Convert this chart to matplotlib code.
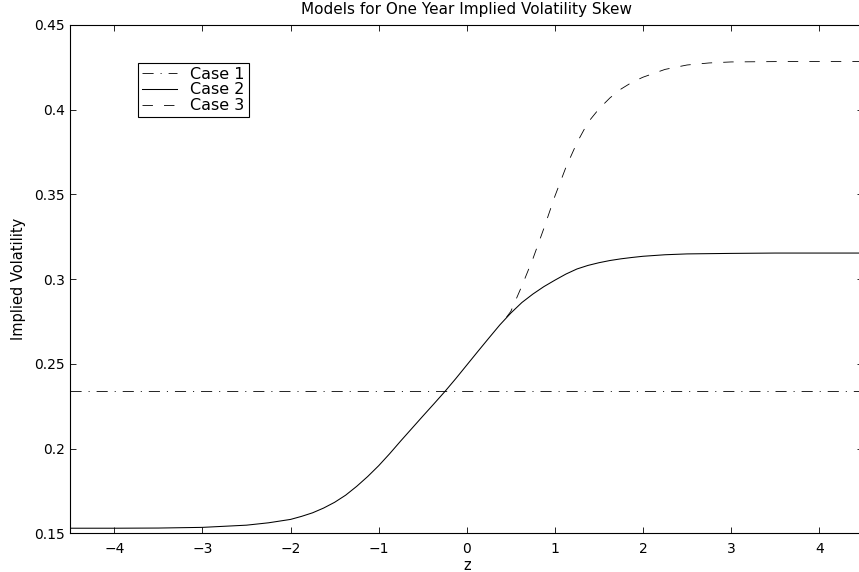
import numpy as np
import matplotlib
matplotlib.use('Agg')
import matplotlib.pyplot as plt
from matplotlib.ticker import FormatStrFormatter

plt.rcParams['font.family'] = ['DejaVu Sans']
plt.rcParams['lines.scale_dashes'] = False

# Values
z_case1 = [-4.5, 4.5]
vol_case1 = [0.234, 0.234]

z_case2 = [-4.5, -4, -3.5, -3, -2.5, -2.25, -2.0, -1.875, -1.75, -1.625, -1.5,
           -1.375, -1.25, -1.125, -1.0, -0.875, -0.75, -0.625, -0.5, -0.375,
           -0.25, -0.125, 0.0, 0.125, 0.25, 0.375, 0.5, 0.625, 0.75, 0.875,
           1.0, 1.125, 1.25, 1.375, 1.5, 1.625, 1.75, 1.875, 2.0, 2.25, 2.5,
           3, 3.5, 4, 4.5]
vol_case2 = [0.1530, 0.1530, 0.1531, 0.1535, 0.1548, 0.1562, 0.1582, 0.1600,
             0.1621, 0.1649, 0.1683, 0.1725, 0.1777, 0.1835, 0.1899, 0.1970,
             0.2045, 0.2118, 0.2191, 0.2263, 0.2336, 0.2413, 0.2493, 0.2573,
             0.2652, 0.2730, 0.2800, 0.2862, 0.2912, 0.2956, 0.2994, 0.3030,
             0.3060, 0.3081, 0.3097, 0.3110, 0.3120, 0.3128, 0.3135, 0.3144,
             0.3149, 0.3152, 0.3154, 0.3154, 0.3154]

z_case3 = [0.45, 0.5, 0.625, 0.75, 0.875, 1.0, 1.125, 1.25, 1.375, 1.5, 1.625,
           1.75, 1.875, 2.0, 2.25, 2.5, 2.75, 3.0, 3.5, 4.0, 4.5]
vol_case3 = [0.2775, 0.2810, 0.2960, 0.3120, 0.3300, 0.3490, 0.3660, 0.3805,
             0.3925, 0.4005, 0.4070, 0.4122, 0.4162, 0.4192, 0.4238, 0.4264,
             0.4276, 0.4282, 0.4284, 0.4285, 0.4285]

fig = plt.figure(figsize=(8.59, 5.72), dpi=100)
ax = fig.add_axes([70.3 / 859, 1 - 533.3 / 572, 793 / 859, 508.3 / 572])

ax.plot(z_case1, vol_case1, color='black', lw=0.6, dashes=(8, 5, 0.8, 5), label='Case 1')
ax.plot(z_case2, vol_case2, color='black', lw=0.75, label='Case 2')
ax.plot(z_case3, vol_case3, color='black', lw=0.6, dashes=(7.5, 8), label='Case 3')

ax.set_xlim(-4.5, 4.5)
ax.set_ylim(0.15, 0.45)
ax.set_xticks([-4, -3, -2, -1, 0, 1, 2, 3, 4])
ax.set_yticks([0.15, 0.2, 0.25, 0.3, 0.35, 0.4, 0.45])
ax.yaxis.set_major_formatter(FormatStrFormatter('%g'))
ax.tick_params(direction='in', top=True, right=True, length=4, width=0.6,
               labelsize=10, pad=4)
ax.tick_params(axis='x', pad=6)
for s in ax.spines.values():
    s.set_linewidth(0.8)

ax.set_title('Models for One Year Implied Volatility Skew', fontsize=11, pad=8)
ax.set_xlabel('z', fontsize=10.5, labelpad=2)
ax.set_ylabel('Implied Volatility', fontsize=10.5, labelpad=6)

leg = ax.legend(loc='upper left', bbox_to_anchor=(0.0856, 0.926), fontsize=11.5,
                frameon=True, fancybox=False, edgecolor='black', framealpha=1,
                borderpad=0.25, labelspacing=0.05, handlelength=2.2,
                handletextpad=0.8, borderaxespad=0)
leg.get_frame().set_linewidth(0.8)

fig.savefig('out.png', dpi=100)
